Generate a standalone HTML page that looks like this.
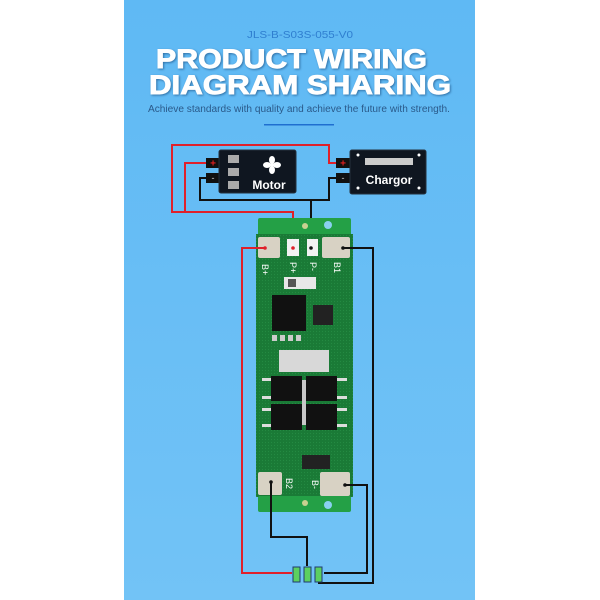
<!DOCTYPE html>
<html><head><style>
html,body{margin:0;padding:0;background:#fff;width:600px;height:600px;overflow:hidden}
svg{display:block}
</style></head><body>
<svg width="600" height="600" viewBox="0 0 600 600" xmlns="http://www.w3.org/2000/svg">
<defs>
<linearGradient id="bg" x1="0" y1="0" x2="0" y2="1">
<stop offset="0" stop-color="#5fb9f4"/><stop offset="1" stop-color="#72c3f6"/>
</linearGradient>
<pattern id="dots" width="3" height="3" patternUnits="userSpaceOnUse"><rect width="3" height="3" fill="#1a7a36"/><circle cx="1.5" cy="1.5" r="0.6" fill="#248a42"/></pattern>
</defs>
<rect x="124" y="0" width="351" height="600" fill="url(#bg)"/>
<text x="300" y="38" text-anchor="middle" font-family="Liberation Sans, sans-serif" font-size="10" fill="#2f7fd0" textLength="106" lengthAdjust="spacingAndGlyphs">JLS-B-S03S-055-V0</text>
<g font-family="Liberation Sans, sans-serif" font-weight="bold" font-size="27" fill="#fff" stroke="#fff" stroke-width="0.9">
<text x="156" y="68" textLength="271" lengthAdjust="spacingAndGlyphs" style="filter:drop-shadow(1px 1px 1px rgba(0,40,90,.5))">PRODUCT WIRING</text>
<text x="149" y="94" textLength="302" lengthAdjust="spacingAndGlyphs" style="filter:drop-shadow(1px 1px 1px rgba(0,40,90,.5))">DIAGRAM SHARING</text>
</g>
<text x="148" y="112" font-family="Liberation Sans, sans-serif" font-size="10" fill="#2a5a8a" textLength="302" lengthAdjust="spacingAndGlyphs">Achieve standards with quality and achieve the future with strength.</text>
<rect x="264" y="124" width="70" height="1.5" fill="#1f6fd0"/>

<g fill="none" stroke-width="2">
<polyline points="340,163 329,163 329,145 172,145 172,212 293,212 293,248" stroke="#e0202a"/>
<polyline points="213,163 185,163 185,212" stroke="#e0202a"/>
<polyline points="213,178 200,178 200,200 329,200 329,178 340,178" stroke="#111"/>
<line x1="311" y1="200" x2="311" y2="248" stroke="#111"/>
</g>
<rect x="206" y="158" width="14" height="10" fill="#111"/><text x="213" y="166.5" text-anchor="middle" font-size="10" font-weight="bold" fill="#e02020" font-family="Liberation Sans,sans-serif">+</text>
<rect x="206" y="173" width="14" height="10" fill="#111"/><text x="213" y="181" text-anchor="middle" font-size="9" fill="#ccc" font-family="Liberation Sans,sans-serif">-</text>
<rect x="219" y="150" width="77" height="43" rx="2" fill="#0f1620" stroke="#24303c"/>
<rect x="228" y="155" width="11" height="8" fill="#aaa"/><rect x="228" y="168" width="11" height="8" fill="#aaa"/><rect x="228" y="181" width="11" height="8" fill="#aaa"/>
<g transform="translate(272,165)" fill="#fff"><circle r="2"/><ellipse cx="0" cy="-5" rx="3" ry="4"/><ellipse cx="5" cy="0" rx="4" ry="3"/><ellipse cx="0" cy="5" rx="3" ry="4"/><ellipse cx="-5" cy="0" rx="4" ry="3"/></g>
<text x="269" y="189" text-anchor="middle" font-size="12" font-weight="bold" fill="#fff" font-family="Liberation Sans,sans-serif">Motor</text>
<rect x="336" y="158" width="14" height="10" fill="#111"/><text x="343" y="166.5" text-anchor="middle" font-size="10" font-weight="bold" fill="#e02020" font-family="Liberation Sans,sans-serif">+</text>
<rect x="336" y="173" width="14" height="10" fill="#111"/><text x="343" y="181" text-anchor="middle" font-size="9" fill="#ccc" font-family="Liberation Sans,sans-serif">-</text>
<rect x="350" y="150" width="76" height="44" rx="2" fill="#0f1620" stroke="#24303c"/>
<rect x="365" y="158" width="48" height="7" fill="#ccc"/>
<circle cx="358" cy="155" r="1.5" fill="#fff"/><circle cx="419" cy="155" r="1.5" fill="#fff"/><circle cx="358" cy="188" r="1.5" fill="#fff"/><circle cx="419" cy="188" r="1.5" fill="#fff"/>
<text x="389" y="184" text-anchor="middle" font-size="12" font-weight="bold" fill="#fff" font-family="Liberation Sans,sans-serif">Chargor</text>

<rect x="258" y="218" width="93" height="30" rx="2" fill="#24a046"/>
<rect x="256" y="234" width="97" height="263" fill="url(#dots)"/>
<rect x="258" y="496" width="93" height="16" rx="2" fill="#24a046"/>
<circle cx="305" cy="226" r="3" fill="#c8d090"/><circle cx="328" cy="225" r="4" fill="#8ad0f0"/>
<circle cx="305" cy="503" r="3" fill="#c8d090"/><circle cx="328" cy="505" r="4" fill="#8ad0f0"/>
<g fill="#d8d2c4"><rect x="258" y="237" width="22" height="21" rx="2"/><rect x="322" y="237" width="28" height="21" rx="2"/><rect x="258" y="472" width="24" height="23" rx="2"/><rect x="320" y="472" width="30" height="24" rx="2"/></g>
<rect x="287" y="239" width="12" height="17" fill="#f2f2f2"/><rect x="307" y="239" width="11" height="17" fill="#f2f2f2"/>
<rect x="284" y="277" width="32" height="12" fill="#e8e8e8"/><rect x="288" y="279" width="8" height="8" fill="#555"/>
<rect x="272" y="295" width="34" height="36" fill="#111"/>
<rect x="313" y="305" width="20" height="20" fill="#222"/>
<g fill="#ccc"><rect x="272" y="335" width="5" height="6"/><rect x="280" y="335" width="5" height="6"/><rect x="288" y="335" width="5" height="6"/><rect x="296" y="335" width="5" height="6"/></g>
<rect x="279" y="350" width="50" height="22" fill="#d8d8d8"/>
<rect x="271" y="376" width="31" height="25" fill="#111"/><rect x="306" y="376" width="31" height="25" fill="#111"/>
<rect x="271" y="404" width="31" height="26" fill="#111"/><rect x="306" y="404" width="31" height="26" fill="#111"/>
<rect x="302" y="380" width="4" height="45" fill="#c8c8c8"/>
<g fill="#ddd"><rect x="262" y="378" width="9" height="3"/><rect x="262" y="396" width="9" height="3"/><rect x="262" y="408" width="9" height="3"/><rect x="262" y="424" width="9" height="3"/><rect x="337" y="378" width="10" height="3"/><rect x="337" y="396" width="10" height="3"/><rect x="337" y="408" width="10" height="3"/><rect x="337" y="424" width="10" height="3"/></g>
<rect x="302" y="455" width="28" height="14" fill="#222"/>
<g font-family="Liberation Sans,sans-serif" font-size="9" fill="#fff">
<text transform="translate(262,264) rotate(90)">B+</text>
<text transform="translate(290,262) rotate(90)">P+</text>
<text transform="translate(310,262) rotate(90)">P-</text>
<text transform="translate(334,262) rotate(90)">B1</text>
<text transform="translate(286,478) rotate(90)">B2</text>
<text transform="translate(312,480) rotate(90)">B-</text>
</g>
<g fill="#e0202a"><circle cx="265" cy="248" r="1.8"/><circle cx="293" cy="248" r="1.8"/></g>
<g fill="#111"><circle cx="311" cy="248" r="1.8"/><circle cx="343" cy="248" r="1.8"/><circle cx="271" cy="482" r="1.8"/><circle cx="345" cy="485" r="1.8"/></g>

<g fill="none" stroke-width="2">
<polyline points="265,248 242,248 242,573 292,573" stroke="#e0202a"/>
<polyline points="343,248 373,248 373,583 318,583" stroke="#111"/>
<polyline points="271,482 271,537 307,537 307,566" stroke="#111"/>
<polyline points="345,485 367,485 367,573 324,573" stroke="#111"/>
</g>
<g stroke="#1f3a70" stroke-width="1" fill="#5cd060">
<rect x="293" y="567" width="7" height="15"/><rect x="304" y="567" width="7" height="15"/><rect x="315" y="567" width="7" height="15"/>
</g>
</svg>
</body></html>
